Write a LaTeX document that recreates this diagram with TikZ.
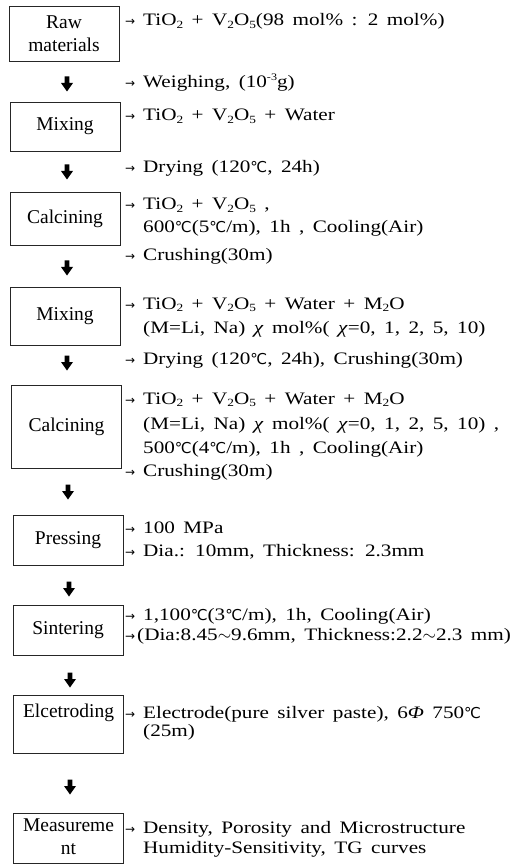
\documentclass[tikz,border=0pt]{standalone}
\usepackage{fontspec}
\setmainfont{Liberation Serif}[WordSpace=1.6]
\newfontfamily\rtf{Liberation Serif}[WordSpace=1.6, FakeStretch=1.21]
\newfontfamily\djv{DejaVu Sans}
\newcommand\sbs[1]{\raisebox{-0.3ex}{\fontsize{11}{11}\selectfont #1}}
\newcommand\sps[1]{\raisebox{0.9ex}{\fontsize{10}{10}\selectfont #1}}
\newcommand\degc{{\djv\fontsize{15}{15}\selectfont ℃}}
\newcommand\rarr{{\djv\fontsize{12}{12}\selectfont →}}
\newcommand\ar{\makebox[18pt][l]{\rarr}}
\begin{document}
\begin{tikzpicture}[x=1pt,y=-1pt,
  box/.style={draw=black!85, line width=0.8pt, minimum width=110pt, inner sep=0pt, align=center, font=\fontsize{19.5}{23}\selectfont},
  lbl/.style={inner sep=0pt, align=center, font=\fontsize{19.5}{23}\selectfont},
  txt/.style={anchor=base west, inner sep=0pt, font=\rtf\fontsize{17.5}{21}\selectfont},
  fat/.style={fill=black}]
\useasboundingbox (0,0) rectangle (519,866);
% boxes
\node[box, minimum height=55pt] (b1) at (64,33.5) {};
\node[lbl] (b1t) at (64,34) {Raw\\materials};
\node[box, minimum height=49pt] (b2) at (65,126.5) {Mixing};
\node[box, minimum height=53pt] (b3) at (65,218.5) {Calcining};
\node[box, minimum height=58pt] (b4) at (65,316) {Mixing};
\node[box, minimum height=83pt] (b5) at (66.5,426.5) {Calcining};
\node[box, minimum height=50pt] (b6) at (68,540) {Pressing};
\node[box, minimum height=50pt] (b7) at (68,630) {Sintering};
\node[box, minimum height=58pt] (b8) at (68.5,724) {};
\node[lbl] (b8t) at (68.5,713) {Elcetroding};
\node[box, minimum height=50pt] (b9) at (68.5,838) {};
\node[lbl] (b9t) at (68.5,837) {Measureme\\nt};
% fat arrows
\foreach \n/\x/\y in {a1/67/84, a2/67/172, a3/67/268, a4/67/363, a5/68/492, a6/69/589, a7/70/680, a8/70/787}{
  \coordinate (\n) at (\x,\y);
  \fill[fat] (\n) ++(-2.4,-7.5) -- ++(4.8,0) -- ++(0,6.5) -- ++(3.6,0) -- ++(-6,8.5) -- ++(-6,-8.5) -- ++(3.6,0) -- cycle;
}
% texts
\node[txt] (t1) at (125,26) {\ar TiO\sbs2 + V\sbs2O\sbs5(98 mol\% : 2 mol\%)};
\node[txt] (t2) at (125,88) {\ar Weighing, (10\sps{-3}g)};
\node[txt] (t3) at (125,121) {\ar TiO\sbs2 + V\sbs2O\sbs5 + Water};
\node[txt] (t4) at (125,173) {\ar Drying (120\degc, 24h)};
\node[txt] (t5) at (125,210) {\ar TiO\sbs2 + V\sbs2O\sbs5 ,};
\node[txt] (t6) at (143,233) {600\degc(5\degc/m), 1h , Cooling(Air)};
\node[txt] (t7) at (125,261) {\ar Crushing(30m)};
\node[txt] (t8) at (125,309) {\ar TiO\sbs2 + V\sbs2O\sbs5 + Water + M\sbs2O};
\node[txt] (t9) at (143,333) {(M=Li, Na) \textit{χ} mol\%( \textit{χ}=0, 1, 2, 5, 10)};
\node[txt] (t10) at (125,364) {\ar Drying (120\degc, 24h), Crushing(30m)};
\node[txt] (t11) at (125,404) {\ar TiO\sbs2 + V\sbs2O\sbs5 + Water + M\sbs2O};
\node[txt] (t12) at (143,429) {(M=Li, Na) \textit{χ} mol\%( \textit{χ}=0, 1, 2, 5, 10) ,};
\node[txt] (t13) at (143,453) {500\degc(4\degc/m), 1h , Cooling(Air)};
\node[txt] (t14) at (125,476) {\ar Crushing(30m)};
\node[txt] (t15) at (125,533) {\ar 100 MPa};
\node[txt] (t16) at (125,556) {\ar Dia.: 10mm, Thickness: 2.3mm};
\node[txt] (t17) at (125,620) {\ar 1,100\degc(3\degc/m), 1h, Cooling(Air)};
\node[txt] (t18) at (125,640) {\makebox[12pt][l]{\rarr}(Dia:8.45$\sim$9.6mm, Thickness:2.2$\sim$2.3 mm)};
\node[txt] (t19) at (125,718) {\ar Electrode(pure silver paste), 6\textit{Φ} 750\degc};
\node[txt] (t20) at (143,736) {(25m)};
\node[txt] (t21) at (125,833) {\ar Density, Porosity and Microstructure};
\node[txt] (t22) at (143,853) {Humidity-Sensitivity, TG curves};
\end{tikzpicture}
\end{document}
